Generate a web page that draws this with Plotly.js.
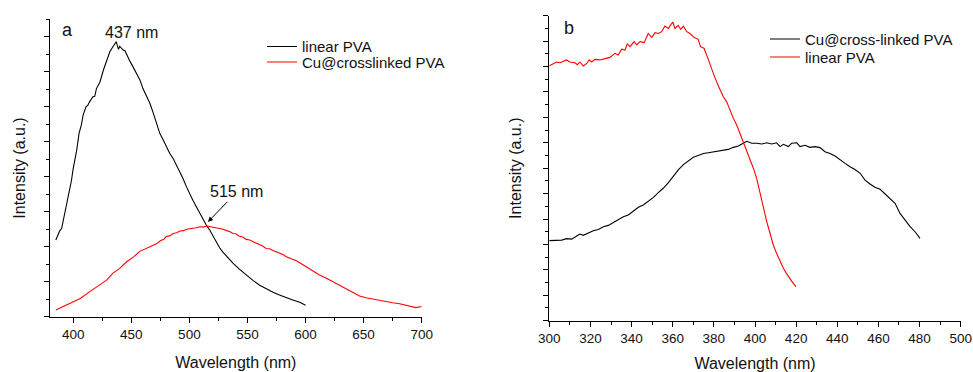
<!DOCTYPE html>
<html>
<head>
<meta charset="utf-8">
<script src="https://cdn.plot.ly/plotly-3.0.1.min.js"></script>
<style>html,body{margin:0;padding:0;background:#fff;}#chart{width:973px;height:372px;}</style>
</head>
<body>
<div id="chart"></div>
<script>
// Panel a: linear PVA (black)
var aLinearWl = [385,386,388.5,390,391.5,394,397,398.5,400,403,405,407,408.5,411,412.5,414,417,418.5,420,423,426,428.5,431.5,434,436,437,438,439,440,441.5,443,444.5,446,449,451.5,454.5,457.5,460,463,466,469,471.5,474.5,477.5,480,483,486,489,491.5,494.5,497.5,500,503,506,509,512,514.5,517.5,520.5,523,526,529,532,535,537.5,543,549,555,560.5,566,572,577.5,583.5,589,595,600];
var aLinearI  = [2.19,2.27,2.46,2.52,2.76,3.14,3.57,3.90,4.24,4.76,5.24,5.48,5.76,6.00,6.04,6.14,6.29,6.30,6.52,6.71,7.05,7.29,7.57,7.71,7.81,7.86,7.74,7.64,7.73,7.66,7.62,7.60,7.48,7.29,7.14,6.95,6.76,6.52,6.29,6.10,5.81,5.52,5.24,5.05,4.86,4.67,4.52,4.33,4.14,3.95,3.71,3.52,3.33,3.14,2.95,2.76,2.62,2.48,2.29,2.14,1.97,1.84,1.72,1.62,1.53,1.36,1.19,1.03,0.90,0.80,0.70,0.62,0.54,0.48,0.41,0.33];
// Panel a: Cu@crosslinked PVA (red)
var aCuWl = [385,390,397,406,414,423,429,434,440,446,452,457,463,469,472,475,478,480,483,486,489,492,495,497.5,500,503,506,509,512,515,518,520,523,526,529,532,535,537.5,540,543,546,549,552,555,558,560.5,563,566,569,572,575,578,581,583.5,586,589,592,595,600.5,606,612,618,623.5,629,635,641,646.5,652,658,663.5,669,675,681,686.5,692,695,700];
var aCuI  = [0.19,0.27,0.36,0.52,0.71,0.90,1.05,1.24,1.38,1.57,1.71,1.86,1.95,2.05,2.09,2.17,2.21,2.29,2.31,2.38,2.40,2.45,2.46,2.50,2.51,2.53,2.54,2.57,2.56,2.59,2.57,2.55,2.55,2.51,2.50,2.46,2.43,2.38,2.37,2.30,2.28,2.21,2.19,2.14,2.10,2.05,2.02,1.95,1.94,1.89,1.85,1.79,1.77,1.71,1.68,1.64,1.60,1.54,1.43,1.31,1.19,1.10,1.00,0.90,0.78,0.69,0.59,0.54,0.50,0.48,0.44,0.40,0.37,0.33,0.29,0.26,0.29];

// Panel b: Cu@cross-linked PVA (black)
var bCuWl = [300,303.6,306,308.4,310.9,313.3,314.9,316.5,319,321.4,323.8,326.3,328.7,331.1,333.5,336,338.4,340.8,343.3,345.7,348.1,350.6,353,355.4,357.9,360.3,362.7,365.2,367.6,370,372.4,374.9,377.3,379.7,382.2,384.6,387,389.5,391.9,394.3,395.9,398.4,400.8,403.2,405.7,408.1,410.5,412.2,413.8,416.2,417.8,420.3,421.9,424.3,426.7,429.2,431.6,434,436.5,438.9,441.3,443.8,446.2,448.6,451.1,453.5,455.9,458.3,460.8,463.2,465.7,468.1,470.5,473,475.4,477.8,480.2];
var bCuI  = [3.15,3.15,3.17,3.23,3.21,3.33,3.41,3.36,3.46,3.54,3.59,3.70,3.75,3.87,3.96,4.09,4.16,4.29,4.46,4.55,4.69,4.85,5.04,5.21,5.43,5.69,5.93,6.14,6.30,6.43,6.50,6.58,6.61,6.64,6.66,6.71,6.74,6.82,6.87,6.98,7.06,6.98,6.98,6.95,7.00,6.95,7.00,6.85,6.94,6.85,6.98,7.00,6.85,6.90,6.82,6.85,6.81,6.65,6.58,6.48,6.32,6.19,6.06,5.95,5.80,5.53,5.38,5.25,5.17,4.98,4.81,4.62,4.22,3.96,3.70,3.50,3.24];
// Panel b: linear PVA (red)
var bLinearWl = [300,302,303.6,305.2,306.8,308.4,310,312.5,313.6,314.9,316.5,318.2,319.4,320.6,322.2,324.6,327.1,329.5,331.9,333.5,335.2,336.8,337.9,339.2,341.2,342.5,344.1,346.1,348.1,349.8,351.4,353,354.6,356.2,357.9,360,361.1,362.7,363.9,365.2,366.8,368.4,370.3,372.4,373.5,375.2,376.8,378.4,380,382.2,384.6,386.2,387.8,389.5,391.1,392.7,394.3,395.9,397.6,399.2,400.8,402.4,404.1,405.7,407.3,408.9,410.5,412.2,413.8,415.4,417,418.6,419.9];
var bLinearI  = [10.03,10.12,10.18,10.15,10.20,10.26,10.18,10.15,10.07,10.18,10.02,10.12,10.26,10.18,10.28,10.26,10.31,10.36,10.52,10.45,10.68,10.65,10.89,10.78,10.98,10.85,10.98,10.94,11.30,11.15,11.33,11.30,11.37,11.59,11.50,11.75,11.50,11.62,11.46,11.59,11.37,11.30,11.15,11.07,10.78,10.72,10.39,9.99,9.67,9.23,8.81,8.62,8.29,7.96,7.70,7.37,7.04,6.71,6.39,6.00,5.60,5.01,4.42,3.90,3.44,2.98,2.65,2.32,2.06,1.84,1.63,1.47,1.34];

var FONT = '"Liberation Sans", Arial, Helvetica, sans-serif';
var W = 973, H = 372;
function px(x){return x / W;}
function py(y){return (H - y) / H;}

var traces = [
  {x: aLinearWl, y: aLinearI, type: 'scatter', mode: 'lines', name: 'linear PVA',
   line: {color: '#000000', width: 1.1}, xaxis: 'x', yaxis: 'y', legend: 'legend'},
  {x: aCuWl, y: aCuI, type: 'scatter', mode: 'lines', name: 'Cu@crosslinked PVA',
   line: {color: '#ff0000', width: 1.1}, xaxis: 'x', yaxis: 'y', legend: 'legend2'},
  {x: bCuWl, y: bCuI, type: 'scatter', mode: 'lines', name: 'Cu@cross-linked PVA',
   line: {color: '#000000', width: 1.1}, xaxis: 'x2', yaxis: 'y2', legend: 'legend3'},
  {x: bLinearWl, y: bLinearI, type: 'scatter', mode: 'lines', name: 'linear PVA',
   line: {color: '#ff0000', width: 1.1}, xaxis: 'x2', yaxis: 'y2', legend: 'legend4'}
];

function axisBase() {
  return {
    showline: true, linecolor: '#000', linewidth: 1, mirror: false,
    showgrid: false, zeroline: false,
    ticks: 'outside', ticklen: 5, tickwidth: 1, tickcolor: '#000',
    tickfont: {family: FONT, size: 13.5, color: '#111'},
    fixedrange: true
  };
}
function legendAt(x, y) {
  return {x: px(x), y: py(y), xanchor: 'left', yanchor: 'middle',
    bgcolor: 'rgba(0,0,0,0)', borderwidth: 0,
    font: {family: FONT, size: 15, color: '#111'}, itemclick: false};
}

var xa = Object.assign(axisBase(), {
  domain: [px(50), px(421.7)], range: [380, 700], anchor: 'y',
  tick0: 400, dtick: 50,
  minor: {ticks: 'outside', ticklen: 3, tickwidth: 1, tickcolor: '#000', dtick: 25, tick0: 400, showgrid: false},
  title: {text: 'Wavelength (nm)', font: {family: FONT, size: 16, color: '#111'}, standoff: 15}
});
var ya = Object.assign(axisBase(), {
  domain: [py(316.7), py(19.3)], range: [0, 8.5], anchor: 'x',
  tick0: 0, dtick: 1, showticklabels: false,
  minor: {ticks: 'outside', ticklen: 3, tickwidth: 1, tickcolor: '#000', dtick: 0.5, tick0: 0, showgrid: false},
  title: {text: 'Intensity (a.u.)', font: {family: FONT, size: 16, color: '#111'}, standoff: 14}
});
var xb = Object.assign(axisBase(), {
  domain: [px(549.3), px(960.7)], range: [300, 500], anchor: 'y2',
  tick0: 300, dtick: 20,
  minor: {ticks: 'outside', ticklen: 3, tickwidth: 1, tickcolor: '#000', dtick: 10, tick0: 300, showgrid: false},
  title: {text: 'Wavelength (nm)', font: {family: FONT, size: 16, color: '#111'}, standoff: 13}
});
var yb = Object.assign(axisBase(), {
  domain: [py(320.7), py(15.7)], range: [0, 12], anchor: 'x2',
  tick0: 0, dtick: 1, showticklabels: false,
  minor: {ticks: 'outside', ticklen: 3, tickwidth: 1, tickcolor: '#000', dtick: 0.5, tick0: 0, showgrid: false},
  title: {text: 'Intensity (a.u.)', font: {family: FONT, size: 16, color: '#111'}, standoff: 17}
});

var layout = {
  width: W, height: H,
  margin: {l: 0, r: 0, t: 0, b: 0, pad: 0},
  paper_bgcolor: '#fff', plot_bgcolor: '#fff',
  font: {family: FONT, color: '#111'},
  showlegend: true,
  xaxis: xa, yaxis: ya, xaxis2: xb, yaxis2: yb,
  legend: legendAt(262, 46.7),
  legend2: legendAt(262, 62.3),
  legend3: legendAt(765, 39.3),
  legend4: legendAt(765, 57.3),
  annotations: [
    {text: 'a', xref: 'paper', yref: 'paper', x: px(67.5), y: py(30), xanchor: 'center', yanchor: 'middle',
     showarrow: false, font: {family: FONT, size: 18, color: '#111'}},
    {text: '437 nm', xref: 'paper', yref: 'paper', x: px(131.7), y: py(32.5), xanchor: 'center', yanchor: 'middle',
     showarrow: false, font: {family: FONT, size: 16, color: '#111'}},
    {text: '515 nm', xref: 'x', yref: 'y', x: 516, y: 2.71, ax: 29, ay: -30,
     showarrow: true, arrowhead: 2, arrowsize: 1, arrowwidth: 1, arrowcolor: '#000',
     font: {family: FONT, size: 16, color: '#111'}},
    {text: 'b', xref: 'paper', yref: 'paper', x: px(569), y: py(28), xanchor: 'center', yanchor: 'middle',
     showarrow: false, font: {family: FONT, size: 18, color: '#111'}}
  ]
};

Plotly.newPlot('chart', traces, layout, {displayModeBar: false, staticPlot: true});
</script>
</body>
</html>
